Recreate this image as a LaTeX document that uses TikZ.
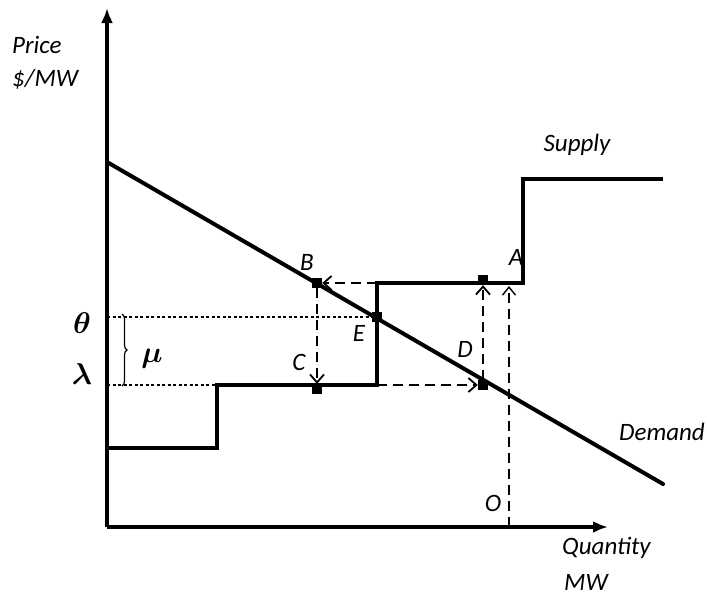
\documentclass[tikz,border=0pt]{standalone}
\usepackage{amsmath}
\usepackage{fontspec}
\setmainfont{Carlito}
\usetikzlibrary{positioning, arrows.meta, decorations.pathreplacing}

\newcommand{\biggreek}[1]{\scalebox{3}{$\boldsymbol{#1}$}}

\begin{document}
\begin{tikzpicture}[
    x=1pt, y=-1pt,
    axis/.style={line width=3.5pt, -{Latex[length=15pt, width=12pt]}},
    curve/.style={line width=4pt},
    guide/.style={line width=2.4pt, dash pattern=on 10pt off 6pt, -{Straight Barb[length=8pt, width=14pt, line width=1.8pt]}},
    level/.style={line width=1.5pt, dash pattern=on 3pt off 2.5pt},
    lbl/.style={font=\fontsize{25}{30}\selectfont\itshape, inner sep=0pt},
    greek/.style={inner sep=0pt},
    blob/.style={fill, minimum size=10pt, inner sep=0pt}
]
    \useasboundingbox (0,0) rectangle (707,597);

    % axes
    \coordinate (origin) at (107,527);
    \coordinate (ytop) at (107,8);
    \coordinate (xend) at (608,527);
    \draw[axis] (origin) -- (ytop);
    \draw[axis] (origin) -- (xend);

    % demand and supply
    \coordinate (dstart) at (107,162);
    \coordinate (dend) at (663,484);
    \draw[curve, line cap=round] (dstart) -- (dend);
    \coordinate (s0) at (107,448);
    \coordinate (s1) at (377,385);
    \coordinate (s2) at (377,283);
    \coordinate (s3) at (663,179);
    \draw[curve, line width=4.5pt] (s0) -- (217,448) -- (217,385) -- (s1) -- (s2) -- (523,283) -- (523,179) -- (s3);

    % points
    \node[blob] (B) at (317,283) {};
    \node[blob] (E) at (377,317) {};
    \node[blob] (C) at (317,389) {};
    \node[blob] (D) at (483,385) {};
    \node[blob] (Dtop) at (483,280) {};
    \coordinate (O) at (509,527);
    \coordinate (Otop) at (509,286);
    \coordinate (theta) at (107,317);
    \coordinate (lambda) at (107,385);
    \coordinate (lstep) at (217,385);

    % guides
    \draw[level] (theta) -- (E);
    \draw[level] (lambda) -- (lstep);
    \draw[guide] (s2) -- (B);
    \draw[guide] (B) -- (C);
    \draw[guide] (s1) -- (D);
    \draw[guide] (D) -- (Dtop);
    \draw[guide, -{Straight Barb[length=8pt, width=13pt, line width=1.4pt]}] (O) -- (Otop);
    \draw[line width=1.2pt, decorate, decoration={brace, amplitude=5pt}] (122,314) -- (122,386);

    % labels
    \node[lbl, anchor=west] (price) at (12,45) {Price};
    \node[lbl, anchor=west] (unity) at (12,79) {\$/MW};
    \node[lbl, anchor=west] (qty) at (562,548) {Quantity};
    \node[lbl, anchor=west] (unitx) at (564,582) {MW};
    \node[lbl] (supply) at (577,145) {Supply};
    \node[lbl] (demand) at (662,432) {Demand};
    \node[lbl] (lA) at (516,257) {A};
    \node[lbl] (lB) at (307,262) {B};
    \node[lbl] (lC) at (299,362) {C};
    \node[lbl] (lD) at (465,349) {D};
    \node[lbl] (lE) at (359,333) {E};
    \node[lbl] (lO) at (493,503) {O};
    \node[greek] (ltheta) at (82,323) {\biggreek{\theta}};
    \node[greek] (llambda) at (82,374) {\biggreek{\lambda}};
    \node[greek] (lmu) at (152,359) {\biggreek{\mu}};
\end{tikzpicture}
\end{document}
